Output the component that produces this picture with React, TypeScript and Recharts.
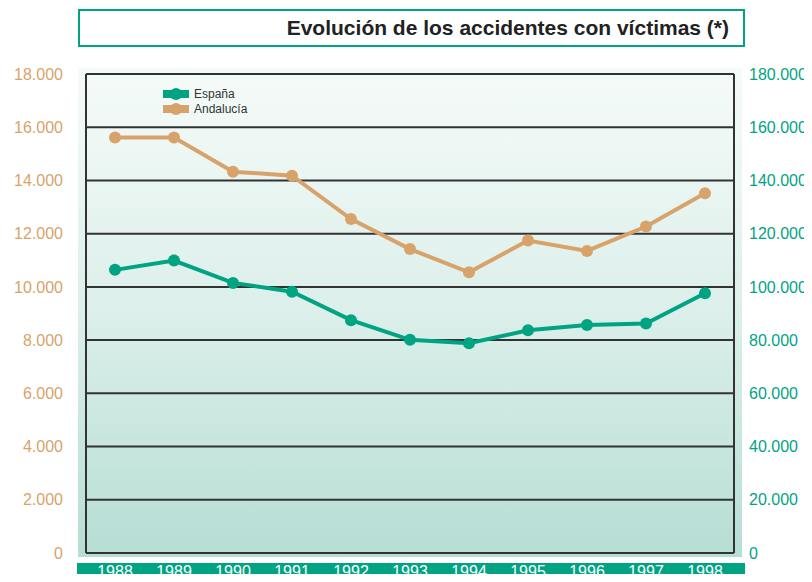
import { LineChart, Line, XAxis, YAxis, CartesianGrid } from "recharts";

const YEARS = ["1988", "1989", "1990", "1991", "1992", "1993", "1994", "1995", "1996", "1997", "1998"];
const ESPANA = [106400, 109900, 101500, 98200, 87500, 80100, 78800, 83700, 85700, 86200, 97600];
const ANDALUCIA = [15610, 15610, 14330, 14180, 12550, 11420, 10550, 11740, 11350, 12270, 13520];
const LEFT_TICKS = [0, 2000, 4000, 6000, 8000, 10000, 12000, 14000, 16000, 18000];
const RIGHT_TICKS = [0, 20000, 40000, 60000, 80000, 100000, 120000, 140000, 160000, 180000];

const GREEN = "#00a482";
const TAN = "#d8a36b";

const fmt = (v: number) => v.toString().replace(/\B(?=(\d{3})+(?!\d))/g, ".");

const data = YEARS.map((year, i) => ({
    year,
    espana: ESPANA[i],
    andalucia: ANDALUCIA[i],
}));

function LegendBox() {
    const items = [
        { label: "España", color: GREEN },
        { label: "Andalucía", color: TAN },
    ];
    return (
        <div style={{ position: "absolute", left: 163, top: 86 }}>
            {items.map(it => (
                <div key={it.label} style={{ display: "flex", alignItems: "center", height: 15 }}>
                    <svg width={26} height={12} style={{ marginRight: 5 }}>
                        <rect x={0} y={2} width={26} height={8} fill={it.color} />
                        <circle cx={13} cy={6} r={6} fill={it.color} />
                    </svg>
                    <span style={{ fontSize: 12, color: "#333" }}>{it.label}</span>
                </div>
            ))}
        </div>
    );
}

export default function App() {
    return (
        <div style={{ position: "relative", width: 812, height: 582, margin: -8, fontFamily: "'Liberation Sans', Arial, sans-serif", background: "#fff", overflow: "hidden" }}>
            <div style={{ position: "absolute", left: 78, top: 9, width: 663, height: 34, border: `2px solid ${GREEN}`, display: "flex", alignItems: "center", justifyContent: "flex-end" }}>
                <span style={{ fontWeight: "bold", fontSize: 21, color: "#222", marginRight: 14 }}>
                    Evolución de los accidentes con víctimas (*)
                </span>
            </div>
            <div style={{ position: "absolute", left: 78, top: 68, width: 664, height: 489, background: "linear-gradient(to bottom, #f5fbf9 0%, #dcefea 50%, #b6ded4 100%)" }} />
            <div style={{ position: "absolute", left: 77, top: 563, width: 668, height: 19, background: GREEN }} />
            <div style={{ position: "absolute", left: 0, top: 0 }}>
                <LineChart width={812} height={582} data={data} margin={{ top: 74, right: 0, bottom: 0, left: 0 }}>
                    <CartesianGrid vertical={false} stroke="#333" strokeWidth={2} yAxisId="left" />
                    <XAxis
                        dataKey="year"
                        height={29}
                        padding={{ left: 29, right: 29 }}
                        axisLine={false}
                        tickLine={false}
                        tickMargin={7}
                        interval={0}
                        tick={{ fill: "#fff", fontSize: 16 }}
                    />
                    <YAxis
                        yAxisId="left"
                        orientation="left"
                        width={86}
                        domain={[0, 18000]}
                        ticks={LEFT_TICKS}
                        tickFormatter={fmt}
                        axisLine={{ stroke: "#333", strokeWidth: 2 }}
                        tickLine={false}
                        tickMargin={17}
                        tick={{ fill: TAN, fontSize: 16 }}
                    />
                    <YAxis
                        yAxisId="right"
                        orientation="right"
                        width={78}
                        domain={[0, 180000]}
                        ticks={RIGHT_TICKS}
                        tickFormatter={fmt}
                        axisLine={{ stroke: "#333", strokeWidth: 2 }}
                        tickLine={false}
                        tickMargin={9}
                        tick={{ fill: GREEN, fontSize: 16, textAnchor: "start" }}
                    />
                    <Line
                        yAxisId="right"
                        dataKey="espana"
                        name="España"
                        stroke={GREEN}
                        strokeWidth={4}
                        dot={{ r: 6, fill: GREEN, stroke: GREEN, strokeWidth: 0 }}
                        isAnimationActive={false}
                    />
                    <Line
                        yAxisId="left"
                        dataKey="andalucia"
                        name="Andalucía"
                        stroke={TAN}
                        strokeWidth={4}
                        dot={{ r: 6, fill: TAN, stroke: TAN, strokeWidth: 0 }}
                        isAnimationActive={false}
                    />
                </LineChart>
            </div>
            <LegendBox />
        </div>
    );
}
